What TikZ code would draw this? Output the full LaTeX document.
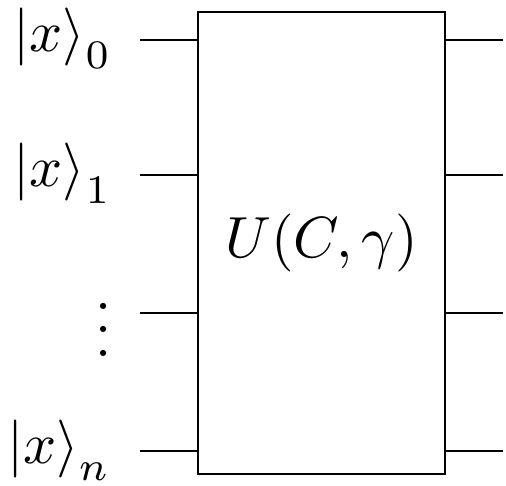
\documentclass[tikz,border=0pt]{standalone}
\begin{document}
\begin{tikzpicture}[x=0.17241pt,y=-0.17241pt,line width=0.5pt,
  lbl/.style={inner sep=0pt,anchor=base east},
  gatebox/.style={draw,rectangle,minimum width=247*0.17241pt,minimum height=462*0.17241pt,inner sep=0pt}]
\useasboundingbox (0,0) rectangle (506,485);
\node[gatebox] (U) at (321.5,243) {$U(C,\gamma)$};
% left and right wire ends
\coordinate (l0) at (140,40);
\coordinate (l1) at (140,175);
\coordinate (l2) at (140,313);
\coordinate (l3) at (140,451);
\coordinate (r0) at (503,40);
\coordinate (r1) at (503,175);
\coordinate (r2) at (503,313);
\coordinate (r3) at (503,451);
\foreach \i in {0,1,2,3}{
  \draw (l\i) -- (U.west |- l\i);
  \draw (U.east |- r\i) -- (r\i);
}
\node[lbl] (k0) at (113,51) {$\left|x\right\rangle_0$};
\node[lbl] (k1) at (113,186) {$\left|x\right\rangle_1$};
\node[inner sep=0pt,anchor=base] (dots) at (104,356) {$\vdots$};
\node[lbl] (kn) at (112,463) {$\left|x\right\rangle_n$};
\end{tikzpicture}
\end{document}
